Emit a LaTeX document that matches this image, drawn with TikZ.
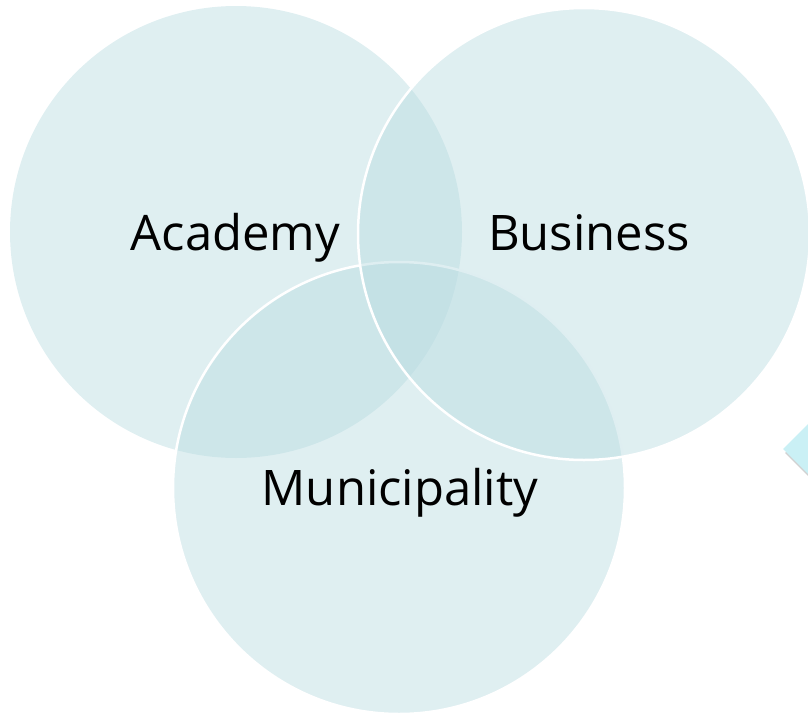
\documentclass[tikz,border=0pt]{standalone}
\usepackage{fontspec}
\setmainfont{Open Sans}
\definecolor{venn}{RGB}{184,219,224}
\definecolor{tab}{RGB}{202,240,245}
\tikzset{lbl/.style={anchor=base, text=black, inner sep=0pt, font=\fontsize{49}{60}\selectfont}}

\begin{document}
\begin{tikzpicture}[x=1pt, y=-1pt]
      \def\rad{226}
      \def\rim{2.5}
      \useasboundingbox (0,0) rectangle (808,715);
      \coordinate (A) at (236, 232);
      \coordinate (B) at (584, 234);
      \coordinate (M) at (399, 488);

      % Tab at the right edge
      \fill[black, opacity=0.18] (785, 453) -- (845, 393) -- (905, 453) -- (845, 513) -- cycle;
      \fill[tab] (783, 449) -- (843, 389) -- (903, 449) -- (843, 509) -- cycle;

      % Draw circles
      \fill[venn, fill opacity=0.45] (A) circle (\rad);
      \filldraw[draw=white, line width=\rim, fill=venn, fill opacity=0.45] (M) circle (\rad);
      \filldraw[draw=white, line width=\rim, fill=venn, fill opacity=0.45] (B) circle (\rad);

      % Circle labels
      \node[lbl] (academy) at (235.5, 250) {Academy};
      \node[lbl] (business) at (589, 250) {Business};
      \node[lbl] (municipality) at (400, 505) {Municipality};
    \end{tikzpicture}
\end{document}
